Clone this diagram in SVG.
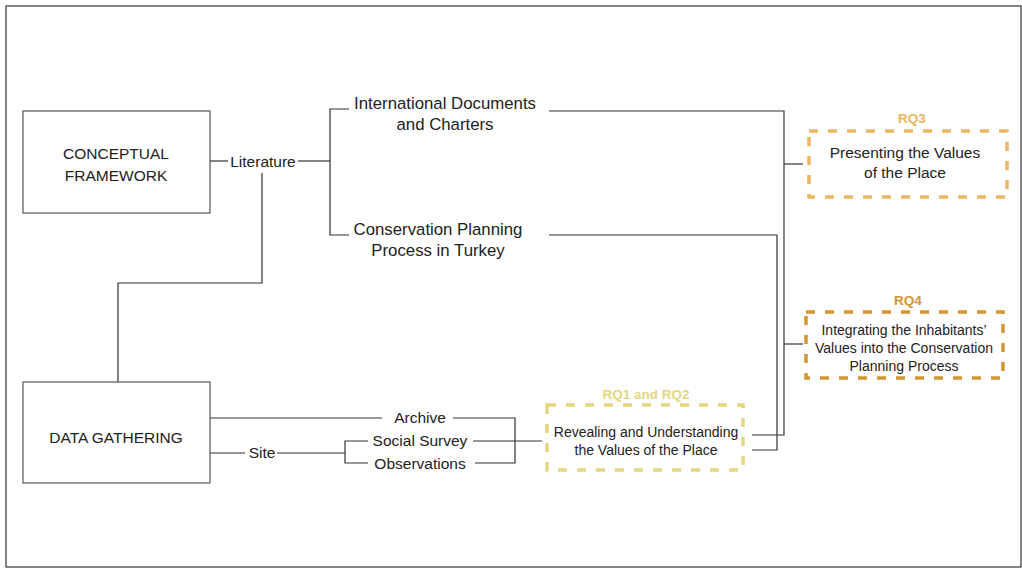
<svg xmlns="http://www.w3.org/2000/svg" width="1022" height="568" viewBox="0 0 1022 568">
<style>
.box{fill:none;stroke:#555;stroke-width:1.2}
.ln{fill:none;stroke:#333;stroke-width:1.2}
.t{font-family:"Liberation Sans",Arial,sans-serif;font-size:15.5px;fill:#222;text-anchor:middle}
.tl{font-family:"Liberation Sans",Arial,sans-serif;font-size:16.8px;fill:#222;text-anchor:middle}
.ts{font-family:"Liberation Sans",Arial,sans-serif;font-size:14px;fill:#222;text-anchor:middle}
.tm{font-family:"Liberation Sans",Arial,sans-serif;font-size:15.5px;fill:#222;text-anchor:middle}
.lbl{font-family:"Liberation Sans",Arial,sans-serif;font-size:13.5px;font-weight:bold;text-anchor:middle}
.dash{fill:none;stroke-width:3.5;stroke-dasharray:9 10}
</style>
<rect x="0" y="0" width="1022" height="568" fill="#fff"/>
<rect x="6" y="6" width="1015" height="561" fill="none" stroke="#333" stroke-width="1.2"/>
<g id="connectors">
<polyline class="ln" points="210,161 228,161"/>
<polyline class="ln" points="298,161 330,161"/>
<polyline class="ln" points="349,109 330,109 330,235 349,235"/>
<polyline class="ln" points="262,173 262,283 118,283 118,382"/>
<polyline class="ln" points="549,111 784,111 784,435 752,435"/>
<polyline class="ln" points="549,235 777,235 777,450 752,450"/>
<polyline class="ln" points="784,164 803,164"/>
<polyline class="ln" points="784,344 803,344"/>
<polyline class="ln" points="210,418 382,418"/>
<polyline class="ln" points="453,418 515,418 515,463 475,463"/>
<polyline class="ln" points="473,441 542,441"/>
<polyline class="ln" points="210,453 245,453"/>
<polyline class="ln" points="277,453 345,453"/>
<polyline class="ln" points="368,441 345,441 345,463 368,463"/>
</g>
<g id="conceptual-framework">
<rect class="box" x="23" y="111" width="187" height="102"/>
<text class="t" x="116" y="159">CONCEPTUAL</text>
<text class="t" x="116" y="181">FRAMEWORK</text>
</g>
<g id="data-gathering">
<rect class="box" x="23" y="382" width="187" height="101"/>
<text class="t" x="116" y="443">DATA GATHERING</text>
</g>
<g id="literature"><text class="t" x="263" y="167">Literature</text></g>
<g id="international-documents">
<text class="tl" x="445" y="109">International Documents</text>
<text class="tl" x="445" y="130">and Charters</text>
</g>
<g id="conservation-planning">
<text class="tl" x="438" y="235">Conservation Planning</text>
<text class="tl" x="438" y="256">Process in Turkey</text>
</g>
<g id="archive"><text class="t" x="420" y="423">Archive</text></g>
<g id="site"><text class="t" x="262" y="458">Site</text></g>
<g id="social-survey"><text class="t" x="420" y="446">Social Survey</text></g>
<g id="observations"><text class="t" x="420" y="469">Observations</text></g>
<g id="rq3">
<text class="lbl" x="912" y="123" fill="#EDB760">RQ3</text>
<rect class="dash" x="809" y="131" width="198" height="66" stroke="#EDB760"/>
<text class="tm" x="905" y="158">Presenting the Values</text>
<text class="tm" x="905" y="178">of the Place</text>
</g>
<g id="rq4">
<text class="lbl" x="908" y="305" fill="#D49533">RQ4</text>
<rect class="dash" x="806" y="312" width="197" height="66" stroke="#D49533"/>
<text class="ts" x="904" y="335">Integrating the Inhabitants’</text>
<text class="ts" x="904" y="353">Values into the Conservation</text>
<text class="ts" x="904" y="371">Planning Process</text>
</g>
<g id="rq1-rq2">
<text class="lbl" x="646" y="399" fill="#E6D67E">RQ1 and RQ2</text>
<rect class="dash" x="547" y="405" width="196" height="65" stroke="#E6D67E"/>
<text class="ts" x="646" y="437">Revealing and Understanding</text>
<text class="ts" x="646" y="455">the Values of the Place</text>
</g>
</svg>
